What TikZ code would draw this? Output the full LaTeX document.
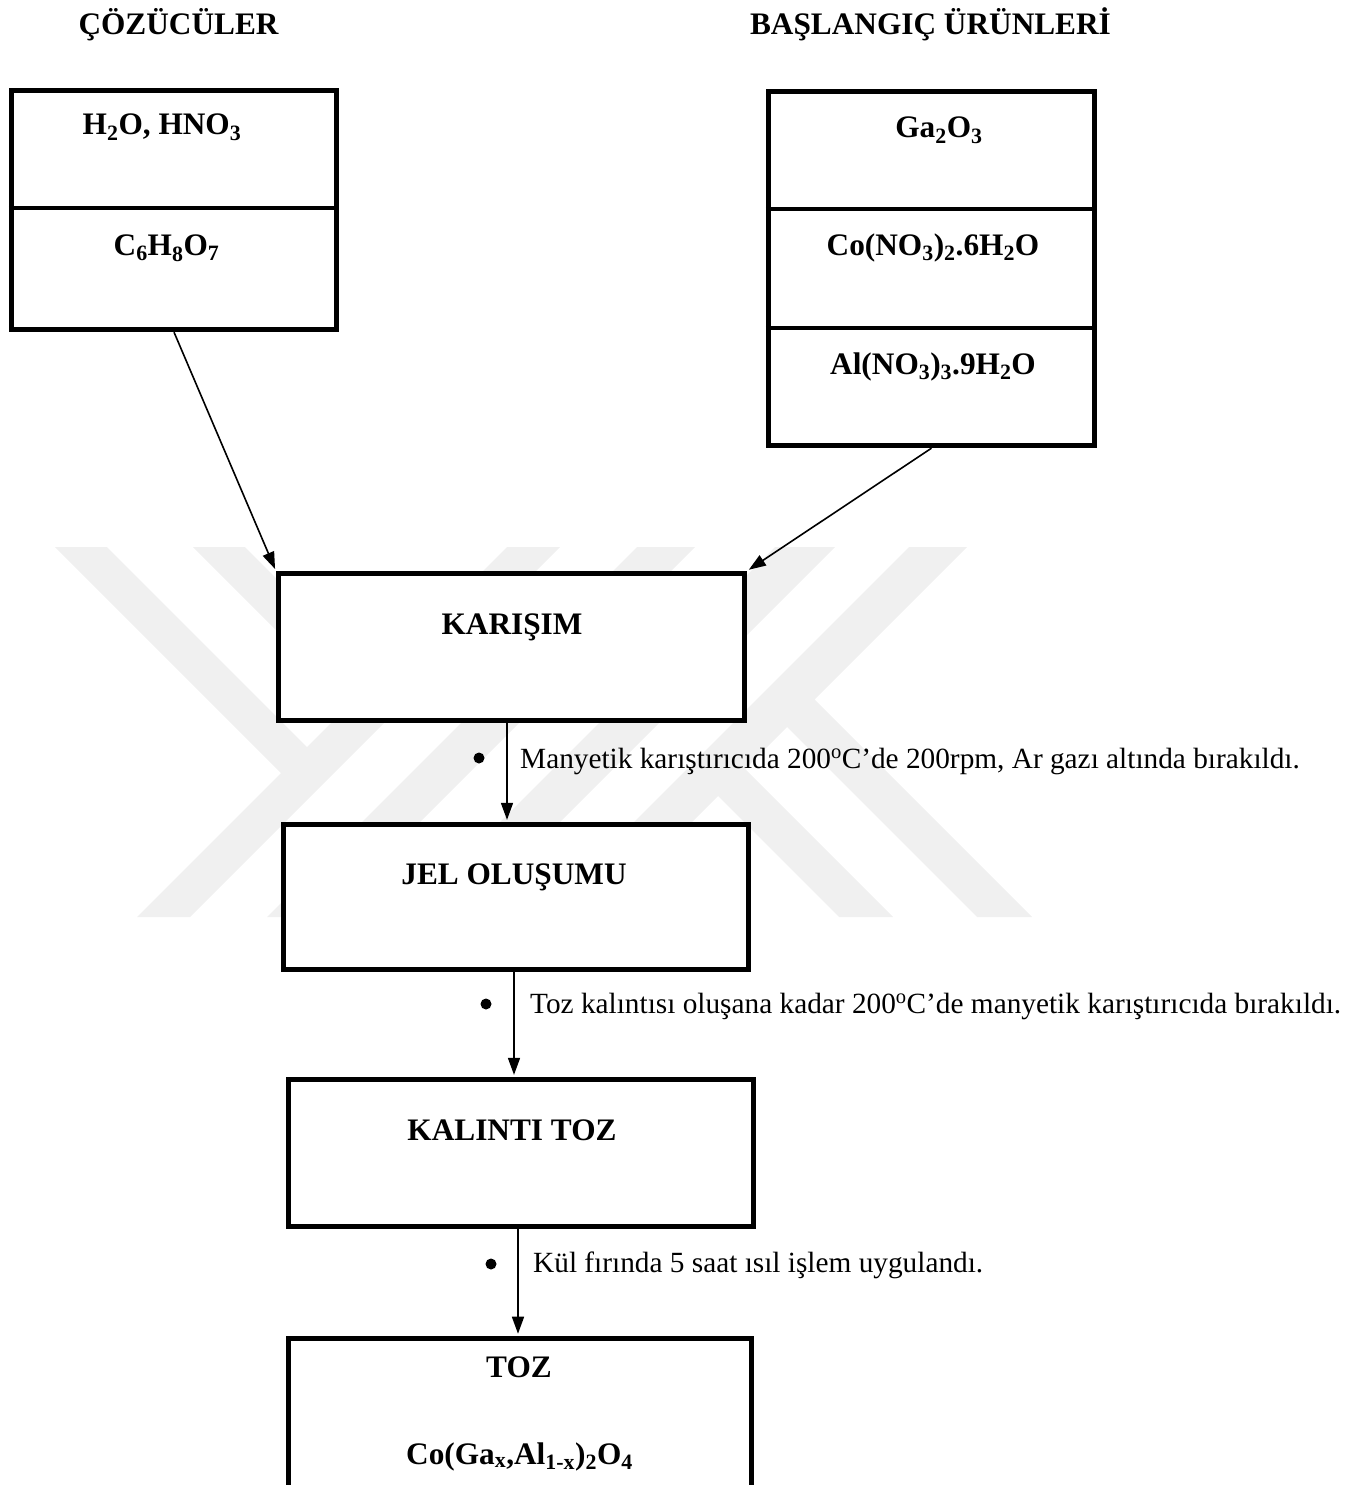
\documentclass[tikz,border=0pt]{standalone}
\usepackage{fontspec}
\setmainfont{Liberation Serif}
\usetikzlibrary{arrows.meta}
\begin{document}
\begin{tikzpicture}[x=1pt,y=-1pt,
  box/.style={draw, line width=4.8pt, fill=white, rectangle, inner sep=0pt},
  arr/.style={line width=1.6pt, -{Triangle[length=17pt,width=12pt]}, shorten >=2pt},
  head/.style={font=\fontsize{31.3}{36}\selectfont\bfseries, inner sep=0pt, anchor=base},
  note/.style={font=\fontsize{29.3}{34}\selectfont, inner sep=0pt, anchor=base west},
  dot/.style={circle, fill=black, inner sep=0pt, minimum size=11pt},
  wm/.style={fill=black!6, draw=none},
  rulediv/.style={line width=4.8pt}
]
\useasboundingbox (0,0) rectangle (1352,1485);
\clip (0,0) rectangle (1352,1485);

% faint watermark
\fill[wm] (55,547) -- (107,547) -- (307,747) -- (350,704) -- (193,547) -- (245,547)
  -- (376,678) -- (507,547) -- (560,547) -- (190,917) -- (137,917) -- (281,773) -- cycle;
\fill[wm] (637,547) -- (695,547) -- (325,917) -- (267,917) -- cycle;
\fill[wm] (775,547) -- (835,547) -- (465,917) -- (405,917) -- cycle;
\fill[wm] (909,547) -- (967,547) -- (814.5,699.5) -- (1032,917) -- (977,917) -- (787,727)
  -- (745,769) -- (893,917) -- (839,917) -- (718,796) -- (597,917) -- (539,917) -- cycle;

% titles
\node[head] (t1) at (178.5,35) {ÇÖZÜCÜLER};
\node[head] (t2) at (930.5,35) {BAŞLANGIÇ ÜRÜNLERİ};

% solvents box
\node[box, minimum width=325.5pt, minimum height=239.5pt] (solv) at (174,210) {};
\coordinate (d1) at (0,208);
\draw[rulediv] (solv.west |- d1) -- (solv.east |- d1);
\node[head] (s1) at (162,135) {H\textsubscript{2}O, HNO\textsubscript{3}};
\node[head] (s2) at (166.5,255) {C\textsubscript{6}H\textsubscript{8}O\textsubscript{7}};

% starting materials box
\node[box, minimum width=326.5pt, minimum height=354.5pt] (start) at (931.5,268.5) {};
\coordinate (d2) at (0,209);
\coordinate (d3) at (0,328);
\draw[rulediv] (start.west |- d2) -- (start.east |- d2);
\draw[rulediv] (start.west |- d3) -- (start.east |- d3);
\node[head] (r1) at (939,138) {Ga\textsubscript{2}O\textsubscript{3}};
\node[head] (r2) at (933,255) {Co(NO\textsubscript{3})\textsubscript{2}.6H\textsubscript{2}O};
\node[head] (r3) at (933,374) {Al(NO\textsubscript{3})\textsubscript{3}.9H\textsubscript{2}O};

% process boxes
\node[box, minimum width=466.5pt, minimum height=147.5pt] (kar) at (511.5,647) {};
\node[head] (kart) at (512,634) {KARIŞIM};
\node[box, minimum width=465.5pt, minimum height=145.5pt] (jel) at (516,897) {};
\node[head] (jelt) at (514,884) {JEL OLUŞUMU};
\node[box, minimum width=465.5pt, minimum height=147.5pt] (kal) at (521,1153) {};
\node[head] (kalt) at (512,1140) {KALINTI TOZ};
\node[box, minimum width=463.5pt, minimum height=161.75pt] (toz) at (520,1419) {};
\node[head] (tozt) at (519,1377) {TOZ};
\node[head] (form) at (519.5,1464) {Co(Ga\textsubscript{x},Al\textsubscript{1-x})\textsubscript{2}O\textsubscript{4}};

% connectors
\draw[arr] (solv.south) -- (kar.north west);
\draw[arr] (start.south) -- (kar.north east);
\coordinate (a1) at ([xshift=-4.5pt]kar.south);
\coordinate (a2) at ([xshift=-2pt]jel.south);
\coordinate (a3) at ([xshift=-3pt]kal.south);
\draw[arr] (a1) -- (a1 |- jel.north);
\draw[arr] (a2) -- (a2 |- kal.north);
\draw[arr] (a3) -- (a3 |- toz.north);

% step notes
\node[dot] (b1) at (479,758) {};
\node[note] (n1) at (520,768) {Manyetik karıştırıcıda 200\textsuperscript{o}C’de 200rpm, Ar gazı altında bırakıldı.};
\node[dot] (b2) at (486,1004) {};
\node[note] (n2) at (530,1013) {Toz kalıntısı oluşana kadar 200\textsuperscript{o}C’de manyetik karıştırıcıda bırakıldı.};
\node[dot] (b3) at (491,1264) {};
\node[note] (n3) at (533,1272) {Kül fırında 5 saat ısıl işlem uygulandı.};
\end{tikzpicture}
\end{document}
